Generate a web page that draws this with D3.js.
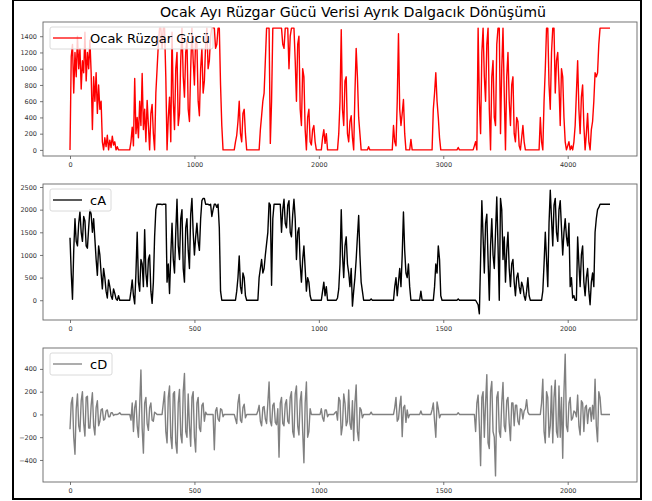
<!DOCTYPE html>
<html><head><meta charset="utf-8">
<script src="https://cdnjs.cloudflare.com/ajax/libs/d3/7.8.5/d3.min.js"></script>
<style>html,body{margin:0;padding:0;background:#fff}svg{display:block;font-family:"DejaVu Sans",sans-serif}</style>
</head><body>
<script>
// ---- data ----
const titleText = "Ocak Ayı Rüzgar Gücü Verisi Ayrık Dalgacık Dönüşümü";
const seriesNames = ["Ocak Rüzgar Gücü", "cA", "cD"];
// original signal, one value every 10 samples
const powerStep = 10;
const power = [
0,1150,1300,700,1200,900,1400,1000,1250,750,1100,950,1450,850,1200,1000,1350,950,
250,900,600,950,450,800,500,600,
100,0,150,40,180,0,120,30,170,60,100,0,40,0,0,
0,0,0,0,0,0,0,0,
100,280,50,880,200,400,150,600,300,940,250,500,100,610,300,0,450,560,200,0,
700,1000,1300,1500,1500,1250,1500,1500,900,
0,400,650,100,
1450,600,250,1000,1200,300,450,1100,1500,900,650,1200,1350,500,350,1000,1500,1100,800,
1400,1300,600,420,1000,1250,700,850,1300,1500,1000,1100,1400,1500,1500,1500,1250,1300,1500,1500,800,
300,0,0,0,0,0,0,0,0,0,0,100,
180,350,600,200,100,450,500,200,0,
0,0,0,0,0,0,0,0,0,0,
250,420,600,700,1100,1500,1500,1500,
80,600,1500,1500,
1500,1500,1500,1500,1500,1500,1300,1250,1500,1500,1500,1000,1400,1500,1500,1500,1100,
600,1300,1400,500,300,1000,900,250,0,400,500,100,60,250,300,
100,0,0,0,0,0,150,250,80,200,0,0,0,0,0,0,0,0,0,
200,600,1480,500,300,850,900,200,100,350,420,150,0,700,1250,900,400,200,0,
0,0,0,0,0,40,0,0,0,0,0,0,0,0,0,0,0,0,0,0,0,0,0,0,0,
300,100,50,600,1430,500,300,450,620,200,0,
0,0,0,130,0,0,0,0,0,0,0,0,0,0,0,0,0,0,0,0,0,
500,700,950,600,400,150,0,
0,0,0,0,0,0,0,0,0,0,0,0,0,30,0,0,0,0,0,0,0,0,0,0,0,0,50,
100,0,1500,600,200,1200,1500,900,600,1300,1500,500,0,900,1100,400,300,1300,1500,1500,200,1000,1500,700,0,900,1200,600,300,800,900,
200,100,400,350,50,0,150,300,100,0,0,0,0,0,0,0,0,0,0,0,0,
400,100,0,600,1000,1500,1500,800,500,1200,1500,1500,700,1100,1200,800,300,1000,900,400,100,0,
50,100,0,50,0,100,
300,700,1100,500,200,650,800,300,0,200,
450,100,0,250,350,600,950,900,950,1300,
1500,1500,1500,1500,1500,1500,1500,1500,1500
];
// approximation coefficients, one value every 5 samples
const cAStep = 5;
const cA = [
1380,600,20,1100,1800,1300,1200,1700,1950,1500,1300,1850,1750,1200,1150,1600,2000,1900,1500,1800,
1350,900,550,1200,1000,600,250,700,500,
200,50,450,300,100,20,250,150,30,0,100,
0,0,0,0,0,0,0,0,0,
200,450,100,-80,600,1500,400,200,900,800,300,1560,600,300,900,1000,200,-70,400,
1400,2000,2120,2120,2120,2120,2110,2120,2120,2120,
400,800,150,1000,1700,
900,600,1500,2230,1200,900,1800,2000,700,400,1600,1800,1100,700,1900,2250,1500,1000,1400,
1700,1300,1100,1800,2200,2250,2250,2120,
2120,2120,2100,2120,1850,2000,2120,2120,2050,2120,1600,
200,0,0,0,0,0,0,0,0,0,0,0,0,
200,500,980,300,150,600,500,100,
0,0,0,0,0,0,0,0,0,0,
500,700,900,600,700,1000,1250,1500,2150,2100,330,1800,
2120,2120,2120,2120,2120,2120,
1500,2000,2230,1700,1600,2100,2200,1500,1400,1900,2230,1800,
900,1500,1600,800,400,900,1200,700,200,500,400,100,
0,0,0,0,0,0,0,0,0,
200,400,100,300,0,
0,0,0,0,0,0,0,50,250,
800,2000,1000,500,1200,1400,800,600,
300,700,-130,200,500,
900,1400,1870,1000,400,200,
0,0,0,0,0,0,30,0,0,0,0,0,0,0,0,0,0,0,0,0,0,0,0,0,0,
300,500,100,400,700,300,
1000,1950,1100,600,500,800,300,
0,0,0,0,0,0,0,0,200,0,0,0,0,0,0,0,0,0,0,
300,800,600,1200,900,100,
0,0,0,0,0,0,0,0,0,0,0,0,0,30,0,0,0,0,0,0,0,0,0,0,0,0,0,0,-50,
-100,-300,900,
2200,1400,600,1700,1900,900,0,1200,
1800,1000,700,1500,2280,1200,0,2250,2000,900,1400,
400,1100,1500,700,300,800,900,400,100,500,600,
300,150,400,300,100,0,200,500,100,0,
0,0,0,0,0,0,0,0,0,
200,800,1500,900,300,1700,2430,1800,
1200,2100,2250,1500,1300,2000,2200,1600,1000,1500,1800,1400,1200,1700,
300,500,50,100,0,0,
1400,800,300,1000,1200,
400,100,500,700,200,-100,400,600,300,
1500,1800,2000,2050,2120,
2120,2120,2120,2120,2120,2120,2120,2120
];
// detail coefficients, one value every 5 samples
const cDStep = 5;
const cD = [
-130,100,150,-200,-350,50,180,-100,-150,120,200,-80,-190,150,160,-120,-120,80,190,-100,
-180,60,120,-100,-60,40,50,-50,-40,30,40,-20,-20,15,15,-10,
0,0,0,5,15,0,0,0,0,0,0,0,0,
-50,100,-150,60,120,-100,-200,80,390,-120,-340,100,150,-80,-140,60,100,-50,-60,20,10,
0,0,0,0,0,
100,200,-150,-250,150,250,-200,-300,180,200,-250,-340,100,220,-180,-250,200,360,-150,-200,
180,-100,-280,150,200,-200,-330,100,150,-120,-150,80,100,-60,20,0,
0,0,0,0,0,
-310,30,60,-40,-60,50,40,-20,0,
0,0,0,0,0,0,0,0,
-40,-80,100,175,-50,-70,60,90,-30,0,
0,0,0,0,0,0,0,0,
30,80,-60,-100,60,70,-40,-80,100,285,
-60,-100,80,100,-70,-90,50,-375,100,150,
-80,-100,90,130,-60,-80,150,200,-150,
-200,180,250,-100,-180,120,200,-150,-425,100,285,-200,-150,50,
0,0,0,0,0,0,0,0,
50,-30,-60,40,40,-20,
0,0,0,0,0,15,25,
-50,150,120,-180,-100,180,100,-100,-60,
215,-80,-130,120,-230,100,260,-150,-230,60,40,-30,
0,0,0,0,0,0,20,0,0,0,0,0,0,0,0,0,0,0,0,0,0,0,0,0,0,
60,150,-60,-40,80,160,-195,60,80,-70,40,-30,0,
0,0,0,0,0,0,0,0,30,0,0,0,0,0,0,0,0,
40,100,-60,-200,110,50,-30,0,
0,0,0,0,0,0,0,0,0,0,0,0,0,15,0,0,0,0,0,0,0,0,0,0,0,0,0,
-150,100,170,-100,-450,150,200,
-200,100,350,-250,-300,200,290,-150,-200,
-540,150,200,-150,-200,100,280,-100,
-150,120,150,-80,-230,100,100,
-100,80,80,-60,-90,50,40,
-40,30,50,130,20,0,0,
0,0,0,0,0,0,0,0,100,
310,-150,-250,200,150,-200,-100,250,-250,150,300,-150,-200,250,
-200,150,-385,200,530,-100,-150,100,
150,-50,-30,30,20,-20,
170,-100,-180,120,100,-150,60,80,
-80,40,60,-60,80,-40,
310,-100,-240,200,150,
0,0,0,0,0,0,0,0
];
const yTicks1 = [0,200,400,600,800,1000,1200,1400];
const yTicks2 = [0,500,1000,1500,2000,2500];
const yTicks3 = [-400,-200,0,200,400];
const xTicks1 = [0,1000,2000,3000,4000];
const xTicks23 = [0,500,1000,1500,2000];

// ---- drawing ----
const W = 652, H = 501;
const svg = d3.select("body").append("svg").attr("width", W).attr("height", H);
svg.append("rect").attr("width", W).attr("height", H).attr("fill", "#fff");

const left = 43, right = 637;
const panels = [
  {data: power, step: powerStep, top: 22, bottom: 156, color: "#ff0000", name: seriesNames[0], yt: yTicks1, xt: xTicks1, lw: 163},
  {data: cA, step: cAStep, top: 184, bottom: 320, color: "#000000", name: seriesNames[1], yt: yTicks2, xt: xTicks23, lw: 61},
  {data: cD, step: cDStep, top: 348, bottom: 482, color: "#808080", name: seriesNames[2], yt: yTicks3, xt: xTicks23, lw: 62}
];

panels.forEach(p => {
  const pts = p.data.map((v, i) => [i * p.step, v]);
  const xe = d3.extent(pts, d => d[0]);
  const ye = d3.extent(pts, d => d[1]);
  const xp = (xe[1] - xe[0]) * 0.05, yp = (ye[1] - ye[0]) * 0.05;
  const x = d3.scaleLinear().domain([xe[0] - xp, xe[1] + xp]).range([left, right]);
  const y = d3.scaleLinear().domain([ye[0] - yp, ye[1] + yp]).range([p.bottom, p.top]);
  const g = svg.append("g");

  g.append("path").datum(pts)
    .attr("fill", "none").attr("stroke", p.color).attr("stroke-width", 1.4)
    .attr("stroke-linejoin", "round")
    .attr("d", d3.line().x(d => x(d[0])).y(d => y(d[1])));

  // frame
  g.append("rect").attr("x", left).attr("y", p.top)
    .attr("width", right - left).attr("height", p.bottom - p.top)
    .attr("fill", "none").attr("stroke", "#666").attr("stroke-width", 0.9);

  const ya = g.append("g").attr("transform", `translate(${left},0)`)
    .call(d3.axisLeft(y).tickValues(p.yt).tickSize(3).tickPadding(3).tickFormat(d3.format("d")));
  const xa = g.append("g").attr("transform", `translate(0,${p.bottom})`)
    .call(d3.axisBottom(x).tickValues(p.xt).tickSize(3).tickPadding(3).tickFormat(d3.format("d")));
  [ya, xa].forEach(a => {
    a.select(".domain").remove();
    a.selectAll("line").attr("stroke", "#555").attr("stroke-width", 0.8);
    a.selectAll("text").attr("fill", "#333").style("font-size", "6.5px").style("font-family", "DejaVu Sans");
  });
  ya.selectAll("text").text(d => d < 0 ? "\u2212" + Math.abs(d) : d);

  // legend
  const lx = 50, ly = p.top + 5;
  const lg = g.append("g");
  lg.append("rect").attr("x", lx).attr("y", ly).attr("width", p.lw).attr("height", 22)
    .attr("rx", 2).attr("fill", "#fff").attr("fill-opacity", 0.8)
    .attr("stroke", "#d0d0d0").attr("stroke-width", 0.8);
  lg.append("line").attr("x1", lx + 3).attr("x2", lx + 32).attr("y1", ly + 11).attr("y2", ly + 11)
    .attr("stroke", p.color).attr("stroke-width", 1.3);
  lg.append("text").attr("x", lx + 40).attr("y", ly + 16).text(p.name)
    .style("font-size", "13px").attr("fill", "#000");
});

svg.append("text").attr("x", 353).attr("y", 17).attr("text-anchor", "middle")
  .style("font-size", "14.2px").attr("fill", "#000").text(titleText);

// outer border
svg.append("rect").attr("x", 13).attr("y", 0).attr("width", 628).attr("height", 499)
  .attr("fill", "none").attr("stroke", "#000").attr("stroke-width", 2);
</script>
</body></html>
